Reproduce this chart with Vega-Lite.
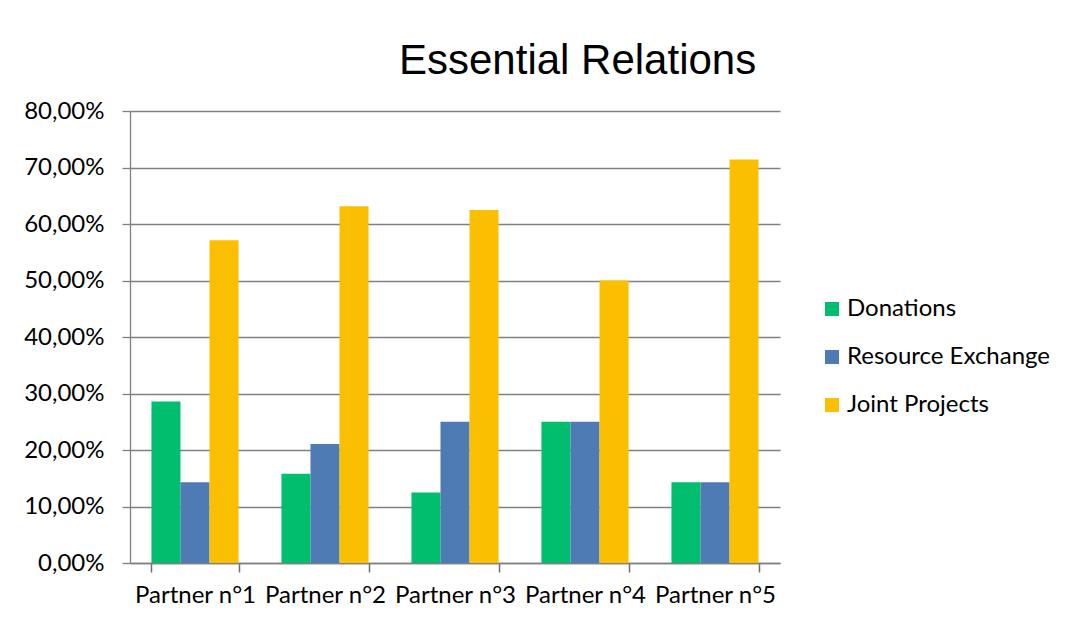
{
  "$schema": "https://vega.github.io/schema/vega-lite/v6.json",
  "autosize": {"type": "none"},
  "width": 650,
  "height": 452,
  "padding": {"left": 130, "top": 111, "right": 296, "bottom": 60},
  "background": "white",
  "title": {
    "text": "Essential Relations",
    "font": "Liberation Sans",
    "fontSize": 42,
    "fontWeight": "normal",
    "color": "#000000",
    "frame": "group",
    "anchor": "start",
    "dx": 269,
    "baseline": "alphabetic",
    "offset": -17
  },
  "data": {
    "values": [
      {"partner": "Partner n°1", "type": "Donations", "share": 0.2857},
      {"partner": "Partner n°1", "type": "Resource Exchange", "share": 0.1429},
      {"partner": "Partner n°1", "type": "Joint Projects", "share": 0.5714},
      {"partner": "Partner n°2", "type": "Donations", "share": 0.1579},
      {"partner": "Partner n°2", "type": "Resource Exchange", "share": 0.2105},
      {"partner": "Partner n°2", "type": "Joint Projects", "share": 0.6316},
      {"partner": "Partner n°3", "type": "Donations", "share": 0.125},
      {"partner": "Partner n°3", "type": "Resource Exchange", "share": 0.25},
      {"partner": "Partner n°3", "type": "Joint Projects", "share": 0.625},
      {"partner": "Partner n°4", "type": "Donations", "share": 0.25},
      {"partner": "Partner n°4", "type": "Resource Exchange", "share": 0.25},
      {"partner": "Partner n°4", "type": "Joint Projects", "share": 0.5},
      {"partner": "Partner n°5", "type": "Donations", "share": 0.1429},
      {"partner": "Partner n°5", "type": "Resource Exchange", "share": 0.1429},
      {"partner": "Partner n°5", "type": "Joint Projects", "share": 0.7143}
    ]
  },
  "mark": {"type": "bar"},
  "encoding": {
    "x": {
      "field": "partner",
      "type": "nominal",
      "sort": null,
      "scale": {"paddingInner": 0.33, "paddingOuter": 0.165},
      "axis": {
        "title": null,
        "labelAngle": 0,
        "labelFont": "Lato",
        "labelFontSize": 24,
        "labelColor": "#000000",
        "labelPadding": 11,
        "ticks": true,
        "tickBand": "extent",
        "tickSize": 9,
        "tickWidth": 1.5,
        "tickColor": "#6f6f6f",
        "domainColor": "#808080",
        "domainWidth": 1.3,
        "grid": false
      }
    },
    "xOffset": {"field": "type", "type": "nominal", "sort": ["Donations", "Resource Exchange", "Joint Projects"]},
    "y": {
      "field": "share",
      "type": "quantitative",
      "scale": {"domain": [0, 0.8], "nice": false},
      "axis": {
        "title": null,
        "values": [0, 0.1, 0.2, 0.3, 0.4, 0.5, 0.6, 0.7, 0.8],
        "labelExpr": "replace(format(datum.value, '.2%'), '.', ',')",
        "labelFont": "Lato",
        "labelFontSize": 24,
        "labelColor": "#000000",
        "labelPadding": 18,
        "tickSize": 8,
        "tickWidth": 1.3,
        "tickColor": "#808080",
        "domainColor": "#808080",
        "domainWidth": 1.3,
        "grid": true,
        "gridColor": "#808080",
        "gridWidth": 1.3
      }
    },
    "color": {
      "field": "type",
      "type": "nominal",
      "sort": ["Donations", "Resource Exchange", "Joint Projects"],
      "scale": {
        "domain": ["Donations", "Resource Exchange", "Joint Projects"],
        "range": ["#00BE6E", "#4F7BB4", "#F9BF00"]
      },
      "legend": {
        "title": null,
        "orient": "none",
        "legendX": 690,
        "legendY": 186,
        "symbolType": "square",
        "symbolSize": 196,
        "symbolStrokeWidth": 0,
        "labelFont": "Lato",
        "labelFontSize": 24,
        "labelColor": "#000000",
        "labelOffset": 3,
        "labelLimit": 400,
        "rowPadding": 24
      }
    }
  },
  "config": {
    "view": {"stroke": null},
    "axisDiscrete": {"ticks": true},
    "axisBand": {"ticks": true},
    "axisXDiscrete": {"ticks": true},
    "axisXBand": {"ticks": true}
  }
}
